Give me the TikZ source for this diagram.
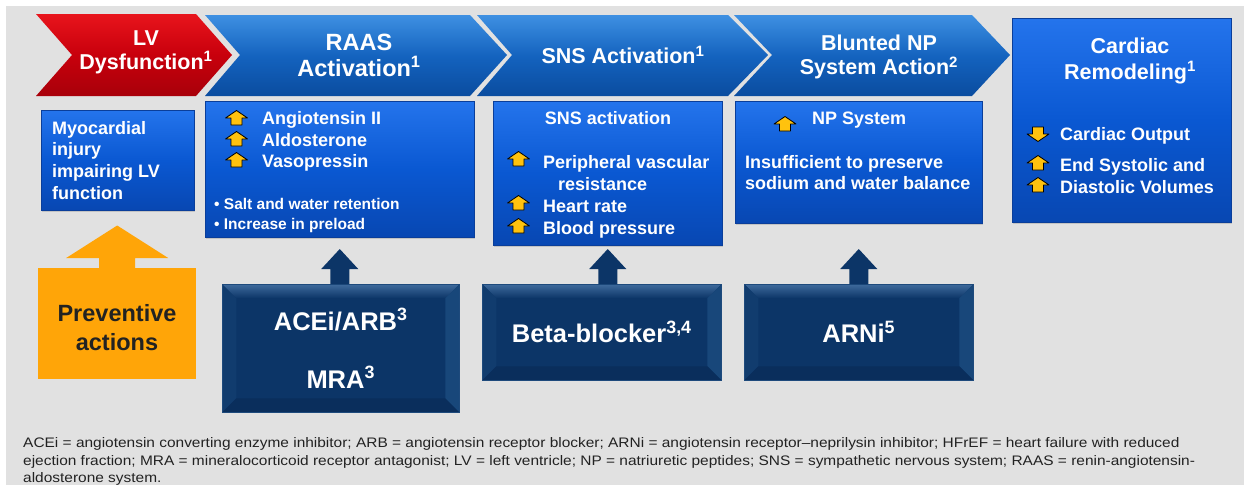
\documentclass[tikz,border=0pt]{standalone}
\usepackage{fontspec}
\setmainfont{Liberation Sans}
\newfontfamily\notefont[FakeStretch=1.12]{Liberation Sans}
\usetikzlibrary{calc,shadows}

\definecolor{bggray}{HTML}{E1E1E1}
\definecolor{chevtop}{HTML}{3E90E2}
\definecolor{chevmid}{HTML}{1463BF}
\definecolor{chevbot}{HTML}{0A4C9F}
\definecolor{redtop}{HTML}{E8141C}
\definecolor{redmid}{HTML}{C8000C}
\definecolor{redbot}{HTML}{A8000A}
\definecolor{boxtop}{HTML}{2474EC}
\definecolor{boxmid}{HTML}{0A58D2}
\definecolor{boxbot}{HTML}{0847B2}
\definecolor{boxedge}{HTML}{0A3E9A}
\definecolor{navy}{HTML}{0C3567}
\definecolor{navylight}{HTML}{3E6A9C}
\definecolor{navyleft}{HTML}{113C6E}
\definecolor{navyright}{HTML}{18477A}
\definecolor{navybot}{HTML}{0A2E5C}
\definecolor{navyedge}{HTML}{1E4A7C}
\definecolor{prevorange}{HTML}{FFA508}
\definecolor{iconfill}{HTML}{FFC20E}
\definecolor{notetext}{HTML}{222222}

\newcommand\fsz[2]{\fontsize{#1}{#2}\selectfont}

\tikzset{
  upmark/.pic={
    \filldraw[fill=iconfill,draw=black,line width=0.8pt,line join=round]
      (0,7.5) -- (11,0) -- (5.5,0) -- (5.5,-7) -- (-5.5,-7) -- (-5.5,0) -- (-11,0) -- cycle;
  },
  downmark/.pic={
    \filldraw[fill=iconfill,draw=black,line width=0.8pt,line join=round]
      (0,-7.5) -- (11,0) -- (5.5,0) -- (5.5,7) -- (-5.5,7) -- (-5.5,0) -- (-11,0) -- cycle;
  }
}

\begin{document}
\begin{tikzpicture}[x=1pt,y=1pt,
  chevblue/.style={top color=chevtop,bottom color=chevbot,middle color=chevmid},
  chevred/.style={top color=redtop,bottom color=redbot,middle color=redmid},
  headtxt/.style={text=white,font=\bfseries\fsz{21.5}{24},align=center,inner sep=0pt},
  bluebox/.style={top color=boxtop,bottom color=boxbot,middle color=boxmid,draw=boxedge,
    line width=0.5pt,inner sep=0pt,anchor=north west,
    drop shadow={shadow xshift=1pt,shadow yshift=-2pt,opacity=0.3}},
  navybox/.style={fill=navy,draw=navyedge,line width=0.5pt,text=white,inner sep=0pt,
    anchor=north west,align=center,font=\bfseries\fsz{25.5}{30},
    path picture={
      \coordinate (bnw) at (path picture bounding box.north west);
      \coordinate (bne) at (path picture bounding box.north east);
      \coordinate (bsw) at (path picture bounding box.south west);
      \coordinate (bse) at (path picture bounding box.south east);
      \shade[top color=navylight,bottom color=navy] (bnw) -- (bne) -- ($(bne)+(-14,-14)$) -- ($(bnw)+(14,-14)$) -- cycle;
      \fill[navyleft] (bnw) -- ($(bnw)+(14,-14)$) -- ($(bsw)+(14,14)$) -- (bsw) -- cycle;
      \fill[navyright] (bne) -- ($(bne)+(-14,-14)$) -- ($(bse)+(-14,14)$) -- (bse) -- cycle;
      \fill[navybot] (bsw) -- ($(bsw)+(14,14)$) -- ($(bse)+(-14,14)$) -- (bse) -- cycle;
    }},
  itemtxt/.style={text=white,font=\bfseries\fsz{18}{21.6},inner sep=0pt,anchor=base west},
  smalltxt/.style={text=white,font=\bfseries\fsz{15.5}{19.5},inner sep=0pt,anchor=base west},
  navyarrow/.style={fill=navy},
  prevarrow/.style={fill=prevorange}
]
% canvas
\fill[white] (0,0) rectangle (1244,-485);
\useasboundingbox (0,0) rectangle (1244,-485);
\fill[bggray] (6,-6) rectangle (1244,-485);

% chevrons along the top
\shade[chevred] (36,-14) -- (196,-14) -- (232,-55) -- (196,-96) -- (36,-96) -- (72,-55) -- cycle;
\shade[chevblue] (205,-15) -- (470,-15) -- (507,-55) -- (470,-96) -- (205,-96) -- (240,-55) -- cycle;
\shade[chevblue] (477,-15) -- (728,-15) -- (768,-55) -- (728,-96) -- (477,-96) -- (512,-55) -- cycle;
\shade[chevblue] (734,-15) -- (972,-15) -- (1010,-55) -- (972,-96) -- (734,-96) -- (772,-55) -- cycle;
\node[bluebox,minimum width=219,minimum height=204] (cardbox) at (1012,-18) {};

\node[headtxt] (lv) at (146,-52) {LV\\Dysfunction\textsuperscript{1}};
\node[headtxt,font=\bfseries\fsz{23.5}{26}] (raas) at (359,-55) {RAAS\\Activation\textsuperscript{1}};
\node[headtxt] (sns) at (623,-55) {SNS Activation\textsuperscript{1}};
\node[headtxt] (bnp) at (879,-57) {Blunted NP\\System Action\textsuperscript{2}};
\node[headtxt,font=\bfseries\fsz{21.5}{26}] (remod) at (1130,-61) {Cardiac\\Remodeling\textsuperscript{1}};

% detail boxes
\node[bluebox,minimum width=153,minimum height=100] (myo) at (41,-110) {};
\node[bluebox,minimum width=269,minimum height=136] (raasbox) at (205,-101) {};
\node[bluebox,minimum width=229,minimum height=144] (snsbox) at (493,-101) {};
\node[bluebox,minimum width=247,minimum height=122] (npbox) at (735,-101) {};

\node[itemtxt,anchor=north west,align=left] (myotxt) at (52,-121) {Myocardial\\injury\\impairing LV\\function};

\pic at (236.5,-118) {upmark};
\pic at (236.5,-139) {upmark};
\pic at (236.5,-160) {upmark};
\node[itemtxt] (ang) at (262,-124) {Angiotensin II};
\node[itemtxt] (ald) at (262,-146) {Aldosterone};
\node[itemtxt] (vas) at (262,-167) {Vasopressin};
\node[smalltxt] (salt) at (214,-209.5) {\textbullet\ Salt and water retention};
\node[smalltxt] (prel) at (214,-229) {\textbullet\ Increase in preload};

\node[itemtxt,anchor=base] (snsact) at (608,-124) {SNS activation};
\pic at (518.5,-159) {upmark};
\pic at (518.5,-203) {upmark};
\pic at (518.5,-226) {upmark};
\node[itemtxt] (pvr) at (543,-168) {Peripheral vascular};
\node[itemtxt] (res) at (558,-190) {resistance};
\node[itemtxt] (hr) at (543,-212) {Heart rate};
\node[itemtxt] (bp) at (543,-234) {Blood pressure};

\pic at (785,-124) {upmark};
\node[itemtxt] (npsys) at (812,-124) {NP System};
\node[itemtxt,anchor=north west,align=left] (insuf) at (745,-155) {Insufficient to preserve\\sodium and water balance};

\pic at (1038,-134) {downmark};
\pic at (1038,-163) {upmark};
\pic at (1038,-185) {upmark};
\node[itemtxt] (co) at (1060,-140) {Cardiac Output};
\node[itemtxt] (esv) at (1060,-171) {End Systolic and};
\node[itemtxt] (dv) at (1060,-193) {Diastolic Volumes};

% therapies
\node[fill=prevorange,inner sep=0pt,anchor=north west,minimum width=158,minimum height=111] (prevbox) at (38,-268) {};
\node[font=\bfseries\fsz{23.5}{29},text=notetext,align=center,inner sep=0pt] (prevtxt) at (117,-327.4) {Preventive\\actions};
\node[navybox,minimum width=237,minimum height=128] (acei) at (222,-284) {ACEi/ARB\textsuperscript{3}\\[28pt]MRA\textsuperscript{3}};
\node[navybox,minimum width=239,minimum height=96] (beta) at (482,-284) {Beta-blocker\textsuperscript{3,4}};
\node[navybox,minimum width=229,minimum height=96] (arni) at (744,-284) {ARNi\textsuperscript{5}};

% block arrows
\fill[prevarrow] let \p1=(myo.south), \p2=(prevbox.north) in
  (\x2-18,\y2) -- (\x2-18,\y2+10) -- (\x2-51,\y2+10) -- (\x2,\y1-15) -- (\x2+51,\y2+10) -- (\x2+18,\y2+10) -- (\x2+18,\y2) -- cycle;
\fill[navyarrow] let \p1=(raasbox.south), \p2=(acei.north) in
  (\x1-9.5,\y2) -- (\x1-9.5,\y2+15) -- (\x1-18.5,\y2+15) -- (\x1,\y2+35) -- (\x1+18.5,\y2+15) -- (\x1+9.5,\y2+15) -- (\x1+9.5,\y2) -- cycle;
\fill[navyarrow] let \p1=(snsbox.south), \p2=(beta.north) in
  (\x1-9.5,\y2) -- (\x1-9.5,\y2+15) -- (\x1-18.5,\y2+15) -- (\x1,\y2+35) -- (\x1+18.5,\y2+15) -- (\x1+9.5,\y2+15) -- (\x1+9.5,\y2) -- cycle;
\fill[navyarrow] let \p1=(npbox.south), \p2=(arni.north) in
  (\x1-9.5,\y2) -- (\x1-9.5,\y2+15) -- (\x1-18.5,\y2+15) -- (\x1,\y2+35) -- (\x1+18.5,\y2+15) -- (\x1+9.5,\y2+15) -- (\x1+9.5,\y2) -- cycle;

% abbreviations
\node[anchor=north west,align=left,inner sep=0pt,text=notetext,font=\notefont\fsz{13.8}{17.5}] (notes) at (23,-437.5)
  {ACEi = angiotensin converting enzyme inhibitor; ARB = angiotensin receptor blocker; ARNi = angiotensin receptor–neprilysin inhibitor; HFrEF = heart failure with reduced\\
   ejection fraction; MRA = mineralocorticoid receptor antagonist; LV = left ventricle; NP = natriuretic peptides; SNS = sympathetic nervous system; RAAS = renin-angiotensin-\\
   aldosterone system.};
\end{tikzpicture}
\end{document}
